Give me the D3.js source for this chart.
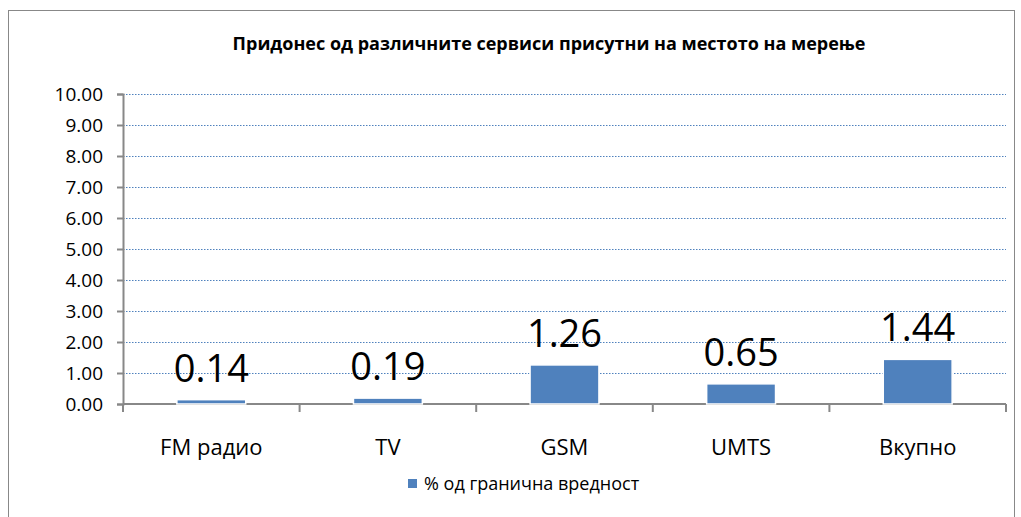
<!DOCTYPE html>
<html>
<head>
<meta charset="utf-8">
<script src="https://cdn.jsdelivr.net/npm/d3@7"></script>
<style>
  body { margin: 0; background: #fff; }
  text { font-family: "Open Sans", "Noto Sans", sans-serif; fill: #000; }
</style>
</head>
<body>
<div id="chart"></div>
<script>
// Chart data
const categories = ['FM радио', 'TV', 'GSM', 'UMTS', 'Вкупно'];
const values = [0.14, 0.19, 1.26, 0.65, 1.44];
const yTicks = [0, 1, 2, 3, 4, 5, 6, 7, 8, 9, 10];
const titleText = 'Придонес од различните сервиси присутни на местото на мерење';
const legendText = '% од гранична вредност';

const W = 1021, H = 517;
const margin = { top: 94, left: 123, right: 15, bottom: 113 };
const width = W - margin.left - margin.right,
    height = H - margin.top - margin.bottom;

const data = categories.map((c, i) => ({ cat: c, val: values[i] }));

let svg = d3.select('#chart')
    .append('svg')
    .attr('width', W)
    .attr('height', H);

// outer chart frame
svg.append('rect')
    .attr('x', 8.5).attr('y', 10.5)
    .attr('width', 1006).attr('height', 520)
    .attr('fill', 'none')
    .attr('stroke', '#888')
    .attr('stroke-width', 1);

svg.append('text')
    .attr('x', 549).attr('y', 50)
    .attr('text-anchor', 'middle')
    .style('font-size', '18px')
    .style('font-weight', 'bold')
    .text(titleText);

const g = svg.append('g')
    .attr('transform', 'translate(' + margin.left + ',' + margin.top + ')');

const xScale = d3.scaleBand()
    .domain(categories)
    .range([0, width])
    .paddingInner(0.61)
    .paddingOuter(0.305);

const yScale = d3.scaleLinear()
    .domain([0, 10])
    .range([height, 0]);

// gridlines
g.append('g')
    .selectAll('line')
    .data(yTicks.filter(d => d > 0))
    .enter()
    .append('line')
    .attr('x1', 0).attr('x2', width)
    .attr('y1', d => yScale(d) + 0.5).attr('y2', d => yScale(d) + 0.5)
    .attr('stroke', '#4F81BD')
    .attr('stroke-width', 1.2)
    .attr('stroke-dasharray', '1.5,1.5');

// Y axis
const yAxis = g.append('g')
    .call(d3.axisLeft(yScale).tickValues(yTicks).tickFormat(d3.format('.2f')).tickSize(6).tickPadding(14));
yAxis.select('.domain').attr('stroke', '#888').attr('stroke-width', 2);
yAxis.selectAll('.tick line').attr('stroke', '#888').attr('stroke-width', 2);
yAxis.selectAll('text').style('font-size', '19px');

// X axis with ticks between categories
const step = xScale.step();
const xAxis = g.append('g')
    .attr('transform', 'translate(0,' + height + ')');
xAxis.append('line')
    .attr('x1', 0).attr('x2', width)
    .attr('stroke', '#888').attr('stroke-width', 2);
xAxis.selectAll('.sep')
    .data(d3.range(categories.length + 1))
    .enter()
    .append('line')
    .attr('class', 'sep')
    .attr('x1', d => d * step).attr('x2', d => d * step)
    .attr('y1', 0).attr('y2', 8)
    .attr('stroke', '#888').attr('stroke-width', 2);
xAxis.selectAll('.catLabel')
    .data(categories)
    .enter()
    .append('text')
    .attr('class', 'catLabel')
    .attr('x', d => xScale(d) + xScale.bandwidth() / 2)
    .attr('y', 51)
    .attr('text-anchor', 'middle')
    .style('font-size', '22px')
    .text(d => d);

// bars
g.append('g')
    .selectAll('rect')
    .data(data)
    .enter()
    .append('rect')
    .attr('x', d => xScale(d.cat))
    .attr('y', d => yScale(d.val))
    .attr('width', xScale.bandwidth())
    .attr('height', d => height - yScale(d.val))
    .attr('fill', '#4F81BD')
    .attr('stroke', '#fff')
    .attr('stroke-width', 1.5);

// value labels
g.append('g')
    .selectAll('text')
    .data(data)
    .enter()
    .append('text')
    .attr('x', d => xScale(d.cat) + xScale.bandwidth() / 2)
    .attr('y', d => yScale(d.val) - 18)
    .attr('text-anchor', 'middle')
    .style('font-size', '38px')
    .text(d => d.val.toFixed(2));

// legend
const legend = svg.append('g')
    .attr('transform', 'translate(408,479)');
legend.append('rect')
    .attr('width', 9).attr('height', 9)
    .attr('fill', '#4F81BD');
legend.append('text')
    .attr('x', 16).attr('y', 11)
    .style('font-size', '18px')
    .text(legendText);
</script>
</body>
</html>
